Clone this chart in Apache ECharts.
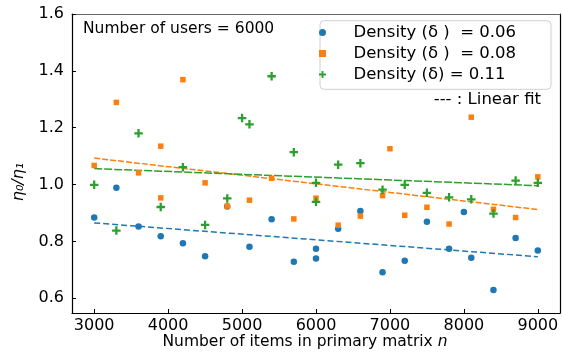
<!DOCTYPE html>
<html><head><meta charset="utf-8">
<script src="https://cdn.jsdelivr.net/npm/echarts@6/dist/echarts.min.js"></script>
<style>html,body{margin:0;padding:0;background:#fff}#c{width:562px;height:352px}</style>
</head><body><div id="c"></div>
<script>
const FONT = 'DejaVu Sans';
const xTicks = [3000, 4000, 5000, 6000, 7000, 8000, 9000];
const yTicks = [0.6, 0.8, 1.0, 1.2, 1.4, 1.6];
const seriesNames = ['Density (δ )  = 0.06', 'Density (δ )  = 0.08', 'Density (δ) = 0.11'];

const blueX = [3000,3300,3600,3900,4200,4500,4800,5100,5400,5700,6000,6000,6300,6600,6900,7200,7500,7800,8000,8100,8400,8700,9000];
const blueY = [0.884,0.989,0.852,0.818,0.793,0.748,0.923,0.781,0.878,0.728,0.774,0.740,0.844,0.907,0.691,0.732,0.869,0.774,0.903,0.742,0.629,0.812,0.768];

const orangeX = [3000,3300,3600,3900,3900,4200,4500,4800,5100,5400,5700,6000,6300,6600,6900,7000,7200,7500,7800,8100,8400,8700,9000];
const orangeY = [1.067,1.289,1.041,1.135,0.953,1.369,1.006,0.924,0.945,1.022,0.879,0.952,0.857,0.889,0.961,1.126,0.892,0.920,0.861,1.237,0.913,0.884,1.027];

const greenX = [3000,3300,3600,3900,4200,4500,4800,5000,5100,5400,5700,6000,6000,6300,6600,6900,7200,7500,7800,8100,8400,8700,9000];
const greenY = [0.999,0.838,1.180,0.921,1.061,0.858,0.951,1.234,1.212,1.381,1.114,1.006,0.939,1.070,1.075,0.982,0.999,0.971,0.955,0.948,0.898,1.014,1.006];

const fitX = [3000, 9000];
const blueFit = [0.865, 0.746];
const orangeFit = [1.093, 0.912];
const greenFit = [1.056, 0.996];

const colors = ['#1f77b4', '#ff7f0e', '#2ca02c'];
const plusPath = 'path://M3,0H5.2V3H8.2V5.2H5.2V8.2H3V5.2H0V3H3Z';
const squarePath = 'path://M0,0H10V10H0Z';

const zip = (xs, ys) => xs.map((x, i) => [x, ys[i]]);

const chart = echarts.init(document.getElementById('c'), null, {renderer: 'canvas'});
chart.setOption({
  animation: false,
  backgroundColor: '#fff',
  textStyle: {fontFamily: FONT},
  grid: {left: 72, top: 14, right: 2, bottom: 39, containLabel: false},
  xAxis: [{
    type: 'value', min: 2700, max: 9300,
    axisLine: {lineStyle: {color: '#000', width: 1.2}},
    axisTick: {inside: true, length: 4, customValues: xTicks, lineStyle: {color: '#000'}},
    axisLabel: {customValues: xTicks, color: '#000', fontSize: 16, fontFamily: FONT, margin: 5,
      formatter: v => String(Math.round(v))},
    splitLine: {show: false}
  }, {
    type: 'value', min: 2700, max: 9300, position: 'top',
    axisLine: {lineStyle: {color: '#666', width: 1.2}},
    axisTick: {show: false}, axisLabel: {show: false}, splitLine: {show: false}
  }],
  yAxis: [{
    type: 'value', min: 0.548, max: 1.6,
    axisLine: {show: true, lineStyle: {color: '#000', width: 1.2}},
    axisTick: {show: true, inside: true, length: 4, customValues: yTicks, lineStyle: {color: '#000'}},
    axisLabel: {customValues: yTicks, color: '#000', fontSize: 16, fontFamily: FONT, margin: 8,
      formatter: v => v.toFixed(1)},
    splitLine: {show: false}
  }, {
    type: 'value', min: 0.548, max: 1.6, position: 'right',
    axisLine: {show: true, lineStyle: {color: '#000', width: 1.2}},
    axisTick: {show: false}, axisLabel: {show: false}, splitLine: {show: false}
  }],
  legend: {
    data: [
      {name: seriesNames[0]},
      {name: seriesNames[1], icon: squarePath},
      {name: seriesNames[2]}
    ],
    orient: 'vertical', left: 319, top: 21, z: 10,
    itemWidth: 52, itemHeight: 7, itemGap: 4, padding: [3, 0, 0, 0],
    textStyle: {fontSize: 16.5, lineHeight: 17, color: '#000', fontFamily: FONT}
  },
  graphic: [
    {type: 'rect', z: 9, shape: {x: 320, y: 20.7, width: 231, height: 68.6, r: 4},
      style: {fill: 'rgba(255,255,255,0.8)', stroke: '#d0d0d0', lineWidth: 1}},
    {type: 'text', x: 83, y: 29, z: 10,
      style: {text: 'Number of users = 6000', fontSize: 15.5, fontFamily: FONT, fill: '#000', verticalAlign: 'middle'}},
    {type: 'text', x: 541, y: 100, z: 10,
      style: {text: '--- : Linear fit', fontSize: 16.5, fontFamily: FONT, fill: '#000', align: 'right', verticalAlign: 'middle'}},
    {type: 'text', x: 305, y: 342, z: 10,
      style: {text: 'Number of items in primary matrix {i|n}', fontSize: 15.5, fontFamily: FONT, fill: '#000',
        align: 'center', verticalAlign: 'middle',
        rich: {i: {fontStyle: 'italic', fontSize: 15.5, fontFamily: FONT}}}},
    {type: 'text', x: 19, y: 182, rotation: Math.PI / 2, z: 10,
      style: {text: 'η₀/η₁', fontSize: 16, fontStyle: 'italic', fontFamily: FONT, fill: '#000',
        align: 'center', verticalAlign: 'middle'}}
  ],
  series: [
    {name: seriesNames[0], type: 'scatter', data: zip(blueX, blueY), symbol: 'circle', symbolSize: 6.5,
      itemStyle: {color: colors[0], opacity: 1}, z: 3},
    {name: seriesNames[1], type: 'scatter', data: zip(orangeX, orangeY), symbol: 'rect', symbolSize: 5.5,
      itemStyle: {color: colors[1], opacity: 1}, z: 3},
    {name: seriesNames[2], type: 'scatter', data: zip(greenX, greenY), symbol: plusPath, symbolSize: 8.5,
      itemStyle: {color: colors[2], opacity: 1}, z: 3},
    {name: 'fit1', type: 'line', data: zip(fitX, blueFit), showSymbol: false, symbol: 'none',
      lineStyle: {color: colors[0], width: 1.5, type: [6, 3]}, z: 2},
    {name: 'fit2', type: 'line', data: zip(fitX, orangeFit), showSymbol: false, symbol: 'none',
      lineStyle: {color: colors[1], width: 1.5, type: [6, 2]}, z: 2},
    {name: 'fit3', type: 'line', data: zip(fitX, greenFit), showSymbol: false, symbol: 'none',
      lineStyle: {color: colors[2], width: 1.5, type: [8, 2]}, z: 2}
  ]
});
</script></body></html>
